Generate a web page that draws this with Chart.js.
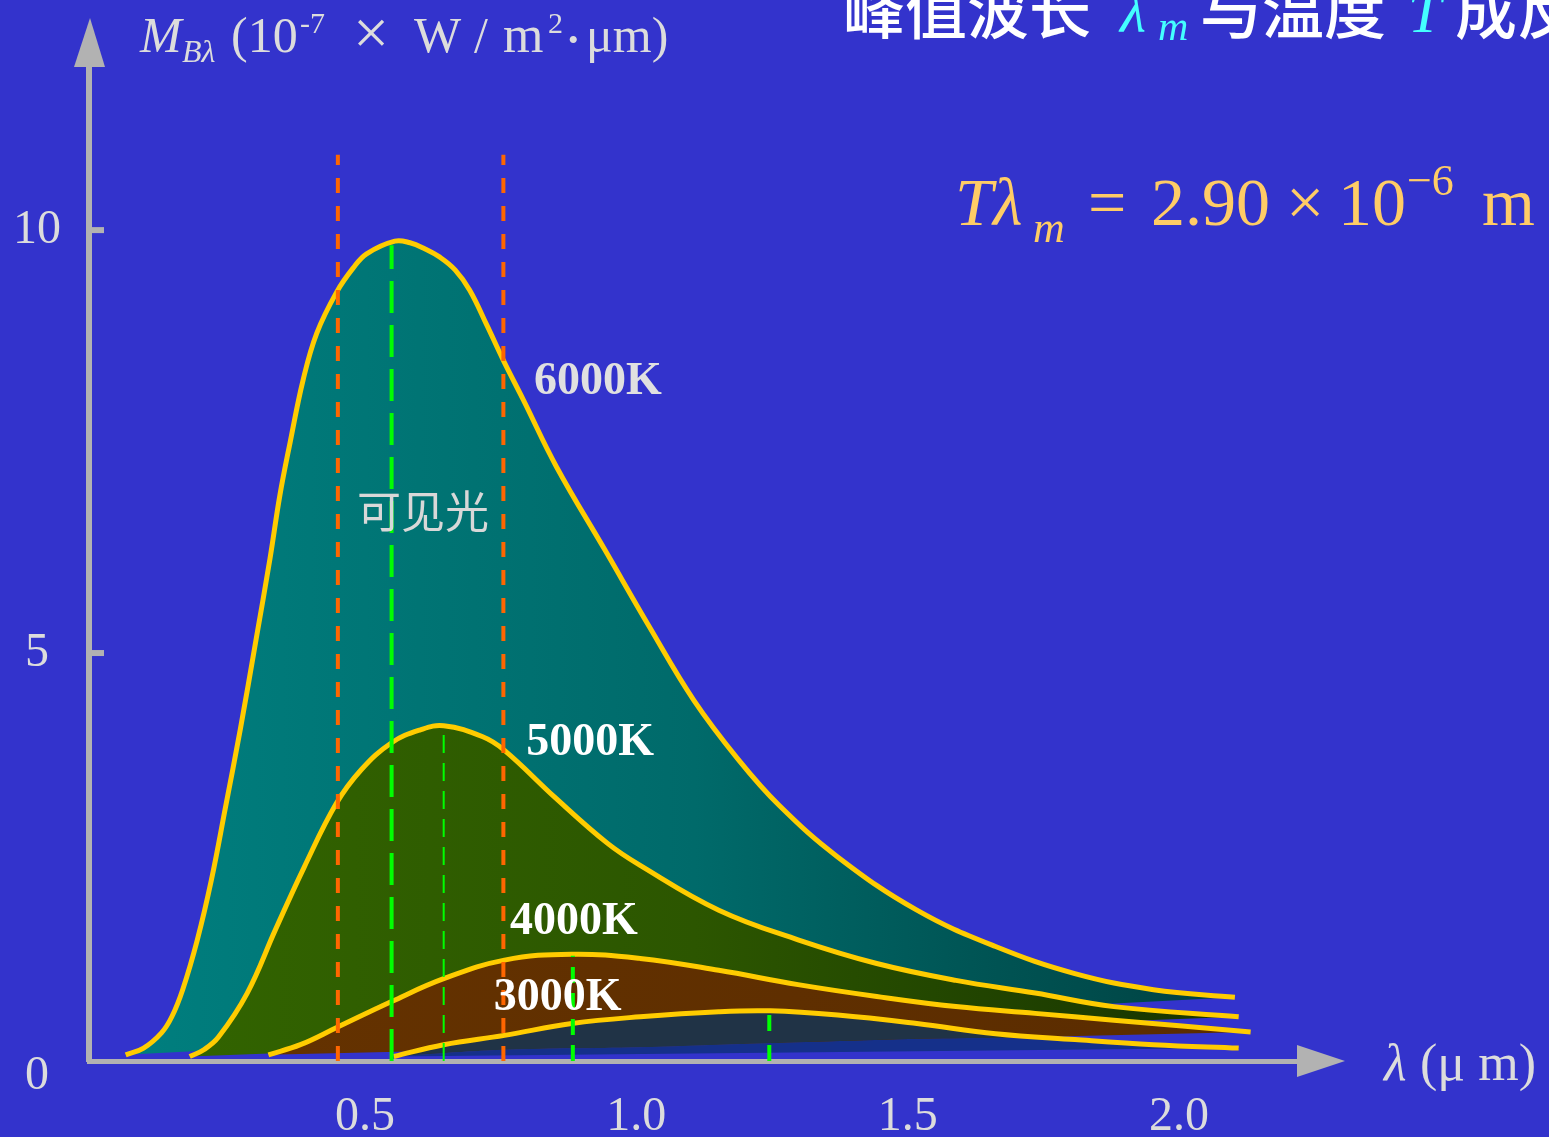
<!DOCTYPE html>
<html lang="zh">
<head>
<meta charset="UTF-8" />
<title>黑体辐射 维恩位移定律</title>
<script src="https://cdn.jsdelivr.net/npm/chart.js@4"></script>
<style>
  html, body { margin: 0; padding: 0; background: #3333cc; overflow: hidden; }
  canvas { display: block; }
</style>
</head>
<body>
<canvas id="planck" width="1549" height="1137"></canvas>
<script>
// wavelength in μm, exitance M in 10^-7 W/(m²·μm)
const lam6000 = [0.059, 0.092, 0.125, 0.144, 0.164, 0.191, 0.217, 0.243, 0.270, 0.299, 0.325, 0.343, 0.362, 0.386, 0.411, 0.448, 0.478, 0.503, 0.555, 0.583, 0.610, 0.638, 0.666, 0.693, 0.725, 0.755, 0.792, 0.853, 0.942, 1.024, 1.106, 1.188, 1.263, 1.371, 1.517, 1.662, 1.808, 1.953, 2.103];
const m6000 = [0.25, 0.33, 0.51, 0.70, 1.02, 1.61, 2.32, 3.18, 4.09, 5.15, 6.12, 6.86, 7.49, 8.23, 8.78, 9.27, 9.55, 9.72, 9.87, 9.85, 9.78, 9.68, 9.53, 9.29, 8.87, 8.46, 7.99, 7.20, 6.22, 5.31, 4.44, 3.74, 3.20, 2.59, 1.96, 1.53, 1.21, 1.02, 0.93];

const lam5000 = [0.177, 0.203, 0.230, 0.283, 0.335, 0.388, 0.447, 0.493, 0.549, 0.601, 0.645, 0.717, 0.757, 0.849, 0.947, 1.007, 1.152, 1.298, 1.443, 1.589, 1.735, 1.880, 2.110];
const m5000 = [0.23, 0.31, 0.46, 0.98, 1.73, 2.47, 3.22, 3.62, 3.94, 4.09, 4.14, 4.01, 3.85, 3.30, 2.75, 2.49, 1.96, 1.61, 1.33, 1.13, 0.98, 0.82, 0.70];

const lam4000 = [0.322, 0.381, 0.447, 0.549, 0.645, 0.757, 0.881, 1.007, 1.152, 1.298, 1.443, 1.589, 1.735, 1.880, 2.132];
const m4000 = [0.25, 0.37, 0.57, 0.88, 1.15, 1.37, 1.44, 1.39, 1.25, 1.08, 0.94, 0.82, 0.74, 0.66, 0.52];

const lam3000 = [0.553, 0.645, 0.757, 0.881, 1.007, 1.152, 1.247, 1.371, 1.517, 1.662, 1.808, 1.953, 2.110];
const m3000 = [0.23, 0.37, 0.48, 0.62, 0.70, 0.76, 0.77, 0.72, 0.62, 0.50, 0.43, 0.37, 0.33];

// lower edge of the dark slate band under the 3000K curve
const lamShade = [0.553, 0.757, 1.007, 1.300, 1.662, 1.850, 2.110];
const mShade = [0.23, 0.31, 0.34, 0.40, 0.45, 0.40, 0.32];

const visibleEdges = [0.45, 0.755];     // 可见光 range
const visibleTop = 10.89;
const peakLam = [0.549, 0.645, 0.883, 1.245];
const peakM = [9.82, 4.10, 1.42, 0.74];

const xTicks = [0.5, 1.0, 1.5, 2.0];
const yTicks = [0, 5, 10];
const tempNames = ["6000K", "5000K", "4000K", "3000K"];

const X_MIN = -0.0086, X_MAX = 2.2248;
const Y_MIN = 0.177, Y_MAX = 11.94;

const AXIS = "#b2b2b2";
const TEXT = "#dcdcdc";
const YELLOW = "#ffcc00";
const SERIF = "'Liberation Serif', 'Times New Roman', serif";
const CJK = "'Noto Sans CJK SC', sans-serif";

const pts = (xs, ys) => xs.map((x, i) => ({ x, y: ys[i] }));
const chord = (xs, ys) => [{ x: xs[0], y: ys[0] }, { x: xs[xs.length - 1], y: ys[ys.length - 1] }];

function hGrad(stops) {
  return (ctx) => {
    const chart = ctx.chart;
    const a = chart.chartArea;
    if (!a) return stops[0][1];
    const g = chart.ctx.createLinearGradient(a.left, 0, a.right, 0);
    stops.forEach(([p, c]) => g.addColorStop(p, c));
    return g;
  };
}

const hidden = (data) => ({
  data, borderWidth: 0, borderColor: "rgba(0,0,0,0)", fill: false, order: 20, tension: 0,
});

const curve = (data, target, bg, order) => ({
  data, fill: { target }, backgroundColor: bg, borderColor: YELLOW, borderWidth: 5,
  tension: 0.4, order,
});

const dashLine = (x, top, color, width, dash) => ({
  data: [{ x, y: Y_MIN }, { x, y: top }],
  borderColor: color, borderWidth: width, borderDash: dash, borderCapStyle: "butt",
  fill: false, tension: 0, order: 1,
});

const datasets = [
  hidden(chord(lam6000, m6000)),   // 0
  hidden(chord(lam5000, m5000)),   // 1
  hidden(chord(lam4000, m4000)),   // 2
  hidden(chord(lam3000, m3000)),   // 3
  { // 4: thin dark-blue strip between shade edge and 3000K chord
    data: pts(lamShade, mShade), fill: { target: 3 }, backgroundColor: "#15308a",
    borderWidth: 0, borderColor: "rgba(0,0,0,0)", tension: 0.4, order: 7.5,
  },
  curve(pts(lam6000, m6000), 0, hGrad([[0, "#008080"], [0.5, "#006a6a"], [1, "#003c3c"]]), 10),
  curve(pts(lam5000, m5000), 1, hGrad([[0, "#336600"], [0.5, "#2c5600"], [1, "#153000"]]), 9),
  curve(pts(lam4000, m4000), 2, hGrad([[0, "#663300"], [1, "#5a2c00"]]), 8),
  curve(pts(lam3000, m3000), 4, "#203346", 7),
  dashLine(visibleEdges[0], visibleTop, "#ff6600", 4, [15, 13]),
  dashLine(visibleEdges[1], visibleTop, "#ff6600", 4, [15, 13]),
  dashLine(peakLam[0], peakM[0], "#00ff00", 4, [32, 12]),
  dashLine(peakLam[1], peakM[1], "#00ff00", 2, [18, 10]),
  dashLine(peakLam[2], peakM[2], "#00ff00", 4, [16, 10]),
  dashLine(peakLam[3], peakM[3], "#00ff00", 4, [16, 14]),
];

// text runs: [text, x, baseline, font, colour]
function drawRuns(ctx, runs) {
  ctx.textAlign = "left";
  ctx.textBaseline = "alphabetic";
  runs.forEach(([t, x, y, font, color]) => {
    ctx.font = font;
    ctx.fillStyle = color;
    ctx.fillText(t, x, y);
  });
}

const decorations = {
  id: "decorations",
  beforeDraw(chart) {
    const ctx = chart.ctx;
    ctx.save();
    ctx.fillStyle = "#3333cc";
    ctx.fillRect(0, 0, chart.width, chart.height);
    ctx.restore();
  },
  afterDraw(chart) {
    const ctx = chart.ctx;
    const a = chart.chartArea;
    const xs = chart.scales.x, ys = chart.scales.y;
    ctx.save();

    // arrow heads and inner tick marks
    ctx.fillStyle = AXIS;
    ctx.beginPath();
    ctx.moveTo(a.left + 1, 18);
    ctx.lineTo(a.left - 15, a.top + 1);
    ctx.lineTo(a.left + 16, a.top + 1);
    ctx.closePath();
    ctx.fill();
    ctx.beginPath();
    ctx.moveTo(a.right + 44, a.bottom);
    ctx.lineTo(a.right - 4, a.bottom - 16);
    ctx.lineTo(a.right - 4, a.bottom + 16);
    ctx.closePath();
    ctx.fill();
    yTicks.filter(v => v > 0).forEach(v => {
      const y = ys.getPixelForValue(v);
      ctx.fillRect(a.left, y - 3, 15, 6);
    });

    // temperature labels
    ctx.textAlign = "center";
    ctx.textBaseline = "middle";
    ctx.font = "bold 46px " + SERIF;
    const spots = [[0.929, 8.20, "#e0e0e0"], [0.915, 3.94, "#ffffff"], [0.885, 1.82, "#ffffff"], [0.855, 0.92, "#ffffff"]];
    spots.forEach(([lx, ly, c], i) => {
      ctx.fillStyle = c;
      ctx.fillText(tempNames[i], xs.getPixelForValue(lx), ys.getPixelForValue(ly));
    });
    ctx.font = "44px " + CJK;
    ctx.fillStyle = "#d8d8d8";
    ctx.fillText("可见光", 423, 511);

    // axis titles
    const yt = TEXT;
    drawRuns(ctx, [
      ["M", 140, 52, "italic 50px " + SERIF, yt],
      ["Bλ", 182, 62, "italic 32px " + SERIF, yt],
      ["(10", 231, 52, "50px " + SERIF, yt],
      ["-7", 300, 33, "30px " + SERIF, yt],
      ["×", 353, 54, "64px " + SERIF, yt],
      ["W", 414, 52, "50px " + SERIF, yt],
      ["/", 474, 52, "50px " + SERIF, yt],
      ["m", 503, 52, "52px " + SERIF, yt],
      ["2", 548, 33, "30px " + SERIF, yt],
      ["•", 568, 50, "30px " + SERIF, yt],
      ["μm)", 586, 52, "50px " + SERIF, yt],
      ["λ", 1384, 1080, "italic 52px " + SERIF, yt],
      ["(μ m)", 1420, 1080, "52px " + SERIF, yt],
    ]);

    // heading (runs off the right edge)
    const cyan = "#44ffff";
    drawRuns(ctx, [
      ["峰值波长", 843, 34, "500 62px " + CJK, "#ffffff"],
      ["λ", 1120, 32, "italic 60px " + SERIF, cyan],
      ["m", 1158, 40, "italic 42px " + SERIF, cyan],
      ["与温度", 1200, 34, "500 62px " + CJK, "#ffffff"],
      ["T", 1408, 32, "italic 60px " + SERIF, cyan],
      ["成反比", 1455, 34, "500 62px " + CJK, "#ffffff"],
    ]);

    // Wien displacement law
    const fc = "#ffcc66";
    drawRuns(ctx, [
      ["T", 955, 225, "italic 68px " + SERIF, fc],
      ["λ", 993, 225, "italic 68px " + SERIF, fc],
      ["m", 1033, 242, "italic 44px " + SERIF, fc],
      ["=", 1088, 225, "68px " + SERIF, fc],
      ["2.90", 1151, 225, "68px " + SERIF, fc],
      ["×", 1286, 225, "68px " + SERIF, fc],
      ["10", 1338, 225, "68px " + SERIF, fc],
      ["−6", 1407, 195, "44px " + SERIF, fc],
      ["m", 1482, 225, "68px " + SERIF, fc],
    ]);
    ctx.restore();
  },
};

new Chart(document.getElementById("planck"), {
  type: "line",
  data: { datasets },
  plugins: [decorations],
  options: {
    responsive: false,
    devicePixelRatio: 1,
    animation: false,
    events: [],
    layout: { padding: { top: 66, right: 248, left: 0, bottom: 0 } },
    elements: { point: { radius: 0 } },
    plugins: { legend: { display: false }, tooltip: { enabled: false } },
    scales: {
      x: {
        type: "linear",
        min: X_MIN,
        max: X_MAX,
        grid: { display: false },
        border: { display: true, color: AXIS, width: 5 },
        afterBuildTicks: (s) => { s.ticks = xTicks.map(v => ({ value: v })); },
        afterFit: (s) => { s.height = 76; },
        ticks: {
          autoSkip: false, maxRotation: 0, padding: 20, color: TEXT,
          font: { family: SERIF, size: 48 },
          callback: (v) => Number(v).toFixed(1),
        },
      },
      y: {
        type: "linear",
        min: Y_MIN,
        max: Y_MAX,
        grid: { display: false },
        border: { display: true, color: AXIS, width: 6 },
        afterBuildTicks: (s) => { s.ticks = yTicks.map(v => ({ value: v })); },
        afterFit: (s) => { s.width = 89; },
        ticks: {
          autoSkip: false, crossAlign: "center", padding: 20, color: TEXT,
          font: { family: SERIF, size: 48 },
          callback: (v) => String(v),
        },
      },
    },
  },
});
</script>
</body>
</html>
